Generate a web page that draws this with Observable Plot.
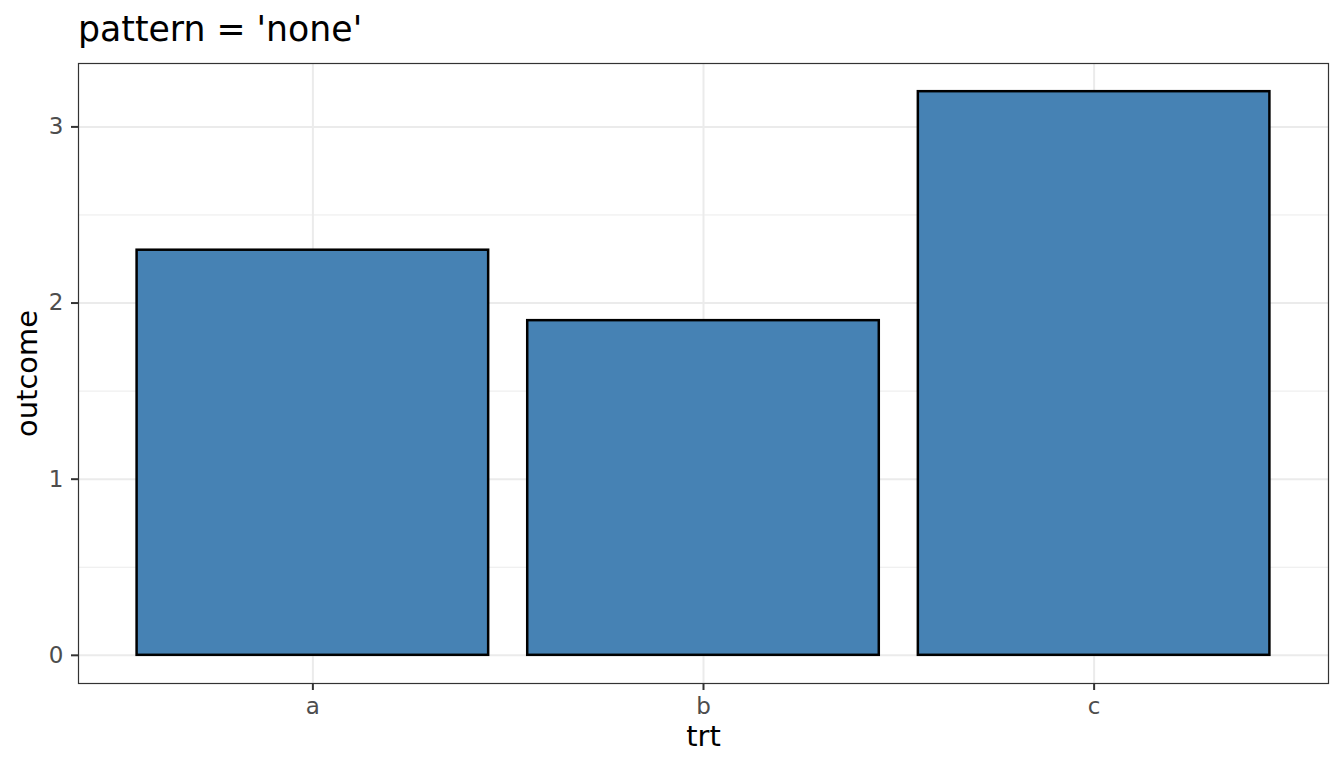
<!DOCTYPE html>
<html><head><meta charset="utf-8">
<script src="https://cdn.jsdelivr.net/npm/d3@7"></script>
<script src="https://cdn.jsdelivr.net/npm/@observablehq/plot@0.6"></script>
<style>
body{margin:0;background:#fff;font-family:"DejaVu Sans",sans-serif;}
#wrap{position:relative;width:1344px;height:768px;}
#title{position:absolute;left:78px;top:12px;font-size:34.7px;line-height:1;color:#000;white-space:nowrap;z-index:2;}
</style></head>
<body><div id="wrap"><div id="title">pattern = 'none'</div></div>
<script>
const trt = ["a", "b", "c"];
const outcome = [2.3, 1.9, 3.2];
const yTicks = [0, 1, 2, 3];
const yMinor = [0.5, 1.5, 2.5];
const data = trt.map((t, i) => ({trt: t, outcome: outcome[i]}));

const chart = Plot.plot({
  width: 1344, height: 768,
  marginLeft: 78, marginRight: 16, marginTop: 63, marginBottom: 85,
  style: {fontFamily: "DejaVu Sans", background: "#fff", fontSize: "23px"},
  x: {type: "band", domain: trt, paddingInner: 0.1, paddingOuter: 0.15, align: 0.5, round: false},
  y: {domain: [-0.16, 3.36]},
  marks: [
    Plot.ruleY(yMinor, {stroke: "#EBEBEB", strokeWidth: 1}),
    Plot.ruleY(yTicks, {stroke: "#EBEBEB", strokeWidth: 2}),
    Plot.ruleX(trt, {x: d => d, stroke: "#EBEBEB", strokeWidth: 2}),
    Plot.barY(data, {x: "trt", y: "outcome", fill: "#4682B4", stroke: "#000", strokeWidth: 2.5}),
    Plot.frame({stroke: "#333333", strokeWidth: 1.2}),
    Plot.axisY(yTicks, {tickSize: 7, tickPadding: 8, fontSize: 23, tickFormat: d => String(d), color: "#4D4D4D", stroke: "#333333", strokeWidth: 2, label: null}),
    Plot.axisX(trt, {tickSize: 7, tickPadding: 7, fontSize: 23, color: "#4D4D4D", stroke: "#333333", strokeWidth: 2, label: null}),
    Plot.text(["outcome"], {frameAnchor: "left", textAnchor: "middle", lineAnchor: "middle", dx: -51, rotate: -90, fontSize: 28.9, fill: "#000"}),
    Plot.text(["trt"], {frameAnchor: "bottom", textAnchor: "middle", lineAnchor: "middle", dy: 53, fontSize: 28.9, fill: "#000"})
  ]
});
document.getElementById("wrap").appendChild(chart);
chart.style.position = "absolute";
chart.style.left = "0";
chart.style.top = "0";
</script>
</body></html>
